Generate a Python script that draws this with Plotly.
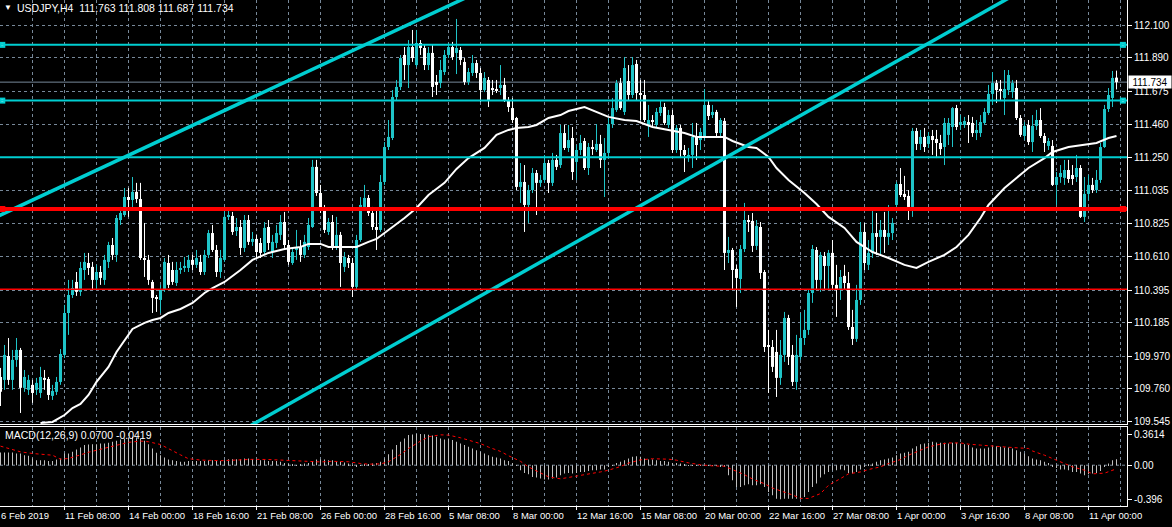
import plotly.graph_objects as go

# ---------------- data ----------------
opens = [
    109.835, 109.816, 109.970, 109.816, 109.945, 110.009, 109.765, 109.752, 109.784, 109.752,
    109.732, 109.829, 109.822, 109.713, 109.739, 109.803, 109.977, 110.247, 110.363, 110.447,
    110.383, 110.524, 110.569, 110.544, 110.460, 110.511, 110.460, 110.576, 110.685, 110.621,
    110.846, 110.878, 110.994, 110.975, 111.027, 110.981, 110.601, 110.589, 110.447, 110.350,
    110.331, 110.395, 110.569, 110.524, 110.440, 110.524, 110.537, 110.537, 110.589, 110.557,
    110.576, 110.511, 110.621, 110.762, 110.653, 110.511, 110.589, 110.866, 110.872, 110.775,
    110.801, 110.666, 110.846, 110.705, 110.724, 110.698, 110.640, 110.801, 110.640, 110.698,
    110.750, 110.833, 110.685, 110.569, 110.653, 110.672, 110.621, 110.672, 110.801, 111.188,
    111.020, 110.911, 110.769, 110.833, 110.672, 110.750, 110.544, 110.601, 110.569, 110.415,
    110.717, 110.930, 110.988, 110.891, 110.801, 110.782, 111.091, 111.316, 111.374, 111.638,
    111.703, 111.909, 111.844, 111.960, 111.844, 111.986, 111.954, 111.844, 111.922, 111.735,
    111.728, 111.799, 111.909, 111.960, 111.922, 111.941, 111.864, 111.735, 111.793, 111.857,
    111.793, 111.683, 111.748, 111.696, 111.690, 111.696, 111.716, 111.619, 111.567, 111.503,
    111.059, 111.091, 110.943, 111.039, 111.149, 111.085, 111.104, 111.213, 111.085, 111.233,
    111.200, 111.406, 111.310, 111.374, 111.220, 111.297, 111.355, 111.181, 111.316, 111.297,
    111.336, 111.233, 111.278, 111.464, 111.555, 111.728, 111.542, 111.741, 111.651, 111.851,
    111.664, 111.651, 111.458, 111.490, 111.458, 111.535, 111.574, 111.458, 111.522, 111.297,
    111.439, 111.297, 111.245, 111.265, 111.381, 111.361, 111.381, 111.587, 111.522, 111.542,
    111.406, 111.484, 110.634, 110.653, 110.531, 110.466, 110.659, 110.846, 110.840, 110.679,
    110.801, 110.511, 110.041, 110.028, 109.996, 109.829, 109.977, 110.215, 109.977, 109.803,
    109.964, 110.086, 110.138, 110.376, 110.653, 110.460, 110.614, 110.550, 110.634, 110.428,
    110.402, 110.486, 110.440, 110.157, 110.080, 110.331, 110.769, 110.557, 110.634, 110.762,
    110.737, 110.782, 110.737, 110.762, 110.943, 111.078, 111.014, 111.001, 110.930, 111.419,
    111.336, 111.381, 111.336, 111.387, 111.368, 111.342, 111.316, 111.394, 111.445, 111.567,
    111.458, 111.458, 111.477, 111.471, 111.406, 111.406, 111.471, 111.535, 111.658, 111.728,
    111.690, 111.632, 111.683, 111.670, 111.696, 111.503, 111.387, 111.458, 111.348, 111.452,
    111.490, 111.387, 111.323, 111.323, 111.072, 111.123, 111.117, 111.168, 111.136, 111.123,
    111.181, 110.866, 111.014, 111.072, 111.039, 111.104, 111.316, 111.561, 111.632, 111.763,
]
closes = [
    109.739, 109.977, 109.816, 109.945, 110.009, 109.765, 109.835, 109.816, 109.732, 109.797,
    109.835, 109.816, 109.719, 109.745, 109.803, 109.983, 110.247, 110.363, 110.408, 110.383,
    110.537, 110.576, 110.537, 110.460, 110.511, 110.473, 110.589, 110.685, 110.621, 110.859,
    110.891, 110.994, 110.975, 111.027, 110.981, 110.601, 110.589, 110.460, 110.344, 110.337,
    110.395, 110.576, 110.428, 110.447, 110.524, 110.537, 110.550, 110.589, 110.557, 110.601,
    110.511, 110.621, 110.762, 110.653, 110.511, 110.601, 110.866, 110.878, 110.769, 110.801,
    110.666, 110.846, 110.705, 110.724, 110.640, 110.634, 110.795, 110.698, 110.705, 110.762,
    110.833, 110.685, 110.576, 110.640, 110.672, 110.621, 110.705, 110.814, 111.188, 111.020,
    110.911, 110.782, 110.833, 110.672, 110.750, 110.569, 110.608, 110.569, 110.415, 110.717,
    110.943, 110.988, 110.891, 110.801, 110.782, 111.091, 111.316, 111.381, 111.638, 111.703,
    111.889, 111.844, 111.960, 111.889, 111.986, 111.954, 111.844, 111.922, 111.703, 111.716,
    111.812, 111.909, 111.960, 111.896, 111.954, 111.877, 111.735, 111.799, 111.857, 111.793,
    111.683, 111.761, 111.619, 111.683, 111.683, 111.716, 111.619, 111.574, 111.490, 111.059,
    111.091, 110.943, 111.039, 111.149, 111.085, 111.104, 111.213, 111.085, 111.233, 111.188,
    111.406, 111.310, 111.361, 111.155, 111.297, 111.342, 111.181, 111.316, 111.303, 111.336,
    111.233, 111.278, 111.464, 111.567, 111.728, 111.567, 111.825, 111.651, 111.844, 111.664,
    111.651, 111.490, 111.490, 111.477, 111.542, 111.574, 111.471, 111.522, 111.297, 111.439,
    111.297, 111.265, 111.265, 111.381, 111.329, 111.413, 111.587, 111.516, 111.542, 111.406,
    111.490, 110.634, 110.653, 110.524, 110.473, 110.659, 110.846, 110.833, 110.679, 110.808,
    110.505, 110.028, 110.028, 109.900, 109.829, 109.977, 110.215, 109.964, 109.803, 109.977,
    110.086, 110.138, 110.376, 110.659, 110.460, 110.621, 110.550, 110.634, 110.428, 110.402,
    110.479, 110.440, 110.157, 110.080, 110.331, 110.769, 110.569, 110.634, 110.762, 110.737,
    110.782, 110.737, 110.762, 110.827, 111.078, 111.007, 110.994, 110.930, 111.419, 111.336,
    111.381, 111.316, 111.387, 111.361, 111.342, 111.303, 111.471, 111.471, 111.567, 111.445,
    111.477, 111.484, 111.458, 111.406, 111.426, 111.477, 111.542, 111.658, 111.728, 111.683,
    111.677, 111.690, 111.780, 111.728, 111.503, 111.394, 111.452, 111.348, 111.452, 111.490,
    111.387, 111.342, 111.355, 111.072, 111.123, 111.149, 111.168, 111.110, 111.110, 111.181,
    110.866, 111.014, 111.072, 111.039, 111.104, 111.316, 111.561, 111.651, 111.761, 111.734,
]
highs = [
    109.893, 110.041, 110.086, 110.009, 110.086, 110.022, 109.880, 109.848, 109.816, 109.829,
    109.900, 109.880, 109.835, 109.784, 109.835, 110.015, 110.299, 110.460, 110.460, 110.511,
    110.576, 110.634, 110.634, 110.576, 110.557, 110.550, 110.621, 110.705, 110.730, 110.878,
    110.930, 111.052, 111.052, 111.123, 111.085, 111.085, 110.827, 110.621, 110.460, 110.363,
    110.428, 110.601, 110.621, 110.576, 110.576, 110.576, 110.608, 110.621, 110.621, 110.653,
    110.621, 110.653, 110.782, 110.814, 110.685, 110.653, 110.930, 110.923, 110.898, 110.859,
    110.846, 110.878, 110.878, 110.769, 110.750, 110.730, 110.833, 110.846, 110.750, 110.814,
    110.878, 110.898, 110.717, 110.672, 110.782, 110.717, 110.750, 110.859, 111.233, 111.233,
    111.072, 110.943, 110.859, 110.878, 110.866, 110.769, 110.640, 110.621, 110.601, 110.750,
    110.994, 111.072, 111.007, 110.930, 110.911, 111.136, 111.348, 111.490, 111.683, 111.748,
    111.909, 111.960, 112.005, 112.070, 112.070, 112.005, 111.973, 111.960, 111.973, 111.780,
    111.877, 111.941, 111.986, 111.993, 112.141, 111.960, 111.889, 111.825, 111.909, 111.877,
    111.825, 111.799, 111.767, 111.748, 111.748, 111.844, 111.761, 111.638, 111.632, 111.510,
    111.213, 111.200, 111.072, 111.181, 111.168, 111.136, 111.265, 111.233, 111.278, 111.265,
    111.458, 111.458, 111.458, 111.445, 111.329, 111.394, 111.374, 111.342, 111.361, 111.464,
    111.394, 111.374, 111.503, 111.632, 111.748, 111.761, 111.896, 111.844, 111.896, 111.877,
    111.748, 111.748, 111.587, 111.522, 111.567, 111.619, 111.600, 111.555, 111.555, 111.458,
    111.458, 111.329, 111.310, 111.471, 111.471, 111.439, 111.690, 111.619, 111.587, 111.555,
    111.503, 111.503, 110.737, 110.666, 110.557, 110.685, 110.956, 110.878, 110.891, 110.846,
    110.833, 110.524, 110.138, 110.073, 110.138, 110.073, 110.254, 110.235, 110.041, 110.106,
    110.247, 110.267, 110.395, 110.685, 110.672, 110.640, 110.640, 110.653, 110.717, 110.557,
    110.524, 110.557, 110.511, 110.267, 110.428, 110.833, 110.827, 110.717, 110.911, 110.891,
    110.846, 110.898, 110.943, 110.859, 111.091, 111.181, 111.130, 111.039, 111.439, 111.439,
    111.426, 111.439, 111.413, 111.426, 111.426, 111.394, 111.503, 111.503, 111.574, 111.587,
    111.522, 111.510, 111.522, 111.510, 111.490, 111.522, 111.567, 111.716, 111.799, 111.748,
    111.748, 111.812, 111.812, 111.748, 111.748, 111.522, 111.477, 111.490, 111.522, 111.555,
    111.567, 111.406, 111.374, 111.361, 111.155, 111.200, 111.233, 111.233, 111.200, 111.265,
    111.200, 111.123, 111.136, 111.117, 111.168, 111.342, 111.587, 111.696, 111.806, 111.808,
]
lows = [
    109.648, 109.752, 109.784, 109.752, 109.900, 109.603, 109.739, 109.719, 109.668, 109.719,
    109.700, 109.752, 109.687, 109.687, 109.719, 109.784, 109.957, 110.106, 110.344, 110.357,
    110.357, 110.460, 110.492, 110.395, 110.395, 110.428, 110.428, 110.537, 110.589, 110.576,
    110.814, 110.866, 110.866, 110.923, 110.956, 110.589, 110.479, 110.428, 110.247, 110.254,
    110.247, 110.383, 110.408, 110.428, 110.421, 110.499, 110.511, 110.511, 110.524, 110.537,
    110.492, 110.492, 110.601, 110.640, 110.479, 110.473, 110.576, 110.846, 110.750, 110.743,
    110.621, 110.640, 110.685, 110.679, 110.601, 110.601, 110.621, 110.653, 110.601, 110.666,
    110.717, 110.666, 110.557, 110.557, 110.589, 110.576, 110.601, 110.653, 110.795, 111.001,
    110.891, 110.762, 110.750, 110.653, 110.653, 110.415, 110.511, 110.537, 110.350, 110.395,
    110.705, 110.911, 110.872, 110.782, 110.653, 110.769, 111.072, 111.297, 111.361, 111.619,
    111.683, 111.748, 111.696, 111.864, 111.832, 111.909, 111.812, 111.812, 111.638, 111.651,
    111.696, 111.780, 111.889, 111.877, 111.786, 111.844, 111.716, 111.716, 111.774, 111.761,
    111.606, 111.670, 111.574, 111.651, 111.664, 111.651, 111.606, 111.542, 111.471, 111.039,
    110.956, 110.769, 110.827, 111.020, 110.878, 111.059, 111.085, 111.020, 111.065, 111.168,
    111.181, 111.297, 111.284, 111.104, 111.104, 111.265, 111.168, 111.136, 111.265, 111.284,
    111.181, 110.994, 111.245, 111.439, 111.542, 111.555, 111.522, 111.619, 111.632, 111.619,
    111.490, 111.477, 111.381, 111.445, 111.439, 111.516, 111.458, 111.439, 111.278, 111.278,
    111.245, 111.155, 111.220, 111.181, 111.233, 111.297, 111.361, 111.490, 111.503, 111.387,
    111.387, 110.524, 110.569, 110.395, 110.286, 110.376, 110.640, 110.769, 110.640, 110.653,
    110.466, 109.996, 109.732, 109.867, 109.706, 109.784, 109.932, 109.912, 109.777, 109.752,
    109.945, 110.041, 110.106, 110.312, 110.395, 110.383, 110.395, 110.402, 110.395, 110.222,
    110.331, 110.395, 110.138, 110.041, 110.061, 110.299, 110.524, 110.524, 110.601, 110.621,
    110.621, 110.634, 110.685, 110.717, 110.898, 110.994, 110.975, 110.846, 110.866, 111.297,
    111.297, 111.284, 111.310, 111.265, 111.245, 111.265, 111.200, 111.329, 111.316, 111.426,
    111.426, 111.439, 111.342, 111.381, 111.361, 111.381, 111.458, 111.522, 111.587, 111.600,
    111.619, 111.522, 111.651, 111.632, 111.490, 111.381, 111.361, 111.329, 111.284, 111.426,
    111.374, 111.284, 111.297, 111.065, 110.943, 111.085, 111.072, 111.085, 111.072, 111.091,
    110.859, 110.833, 110.975, 111.020, 111.020, 111.085, 111.310, 111.542, 111.574, 111.687,
]

# white moving average (sampled along the curve)
ma_bars = [10, 13, 16, 18, 20, 22, 24, 27, 29, 31, 33, 36, 38, 40, 42, 45, 48, 51, 53, 56,
           60, 63, 67, 71, 75, 77, 80, 82, 89, 92, 94, 97, 101, 104, 107, 111, 114, 117, 121, 124,
           127, 129, 132, 134, 137, 140, 142, 146, 149, 152, 156, 159, 163, 167, 171, 174, 177, 181, 183, 187,
           189, 192, 194, 197, 201, 204, 207, 211, 214, 218, 222, 226, 229, 232, 236, 239, 242, 245, 247, 251,
           254, 257, 261, 263, 267, 270, 274, 277, 279]
ma_values = [109.539, 109.545, 109.590, 109.635, 109.661, 109.719, 109.803, 109.900, 109.996, 110.073,
             110.144, 110.183, 110.202, 110.215, 110.247, 110.273, 110.312, 110.376, 110.408, 110.447,
             110.524, 110.589, 110.634, 110.659, 110.672, 110.692, 110.692, 110.672, 110.672, 110.705,
             110.724, 110.782, 110.859, 110.923, 111.007, 111.085, 111.175, 111.245, 111.310, 111.394,
             111.426, 111.439, 111.445, 111.458, 111.503, 111.522, 111.548, 111.574, 111.542, 111.510,
             111.490, 111.484, 111.445, 111.426, 111.406, 111.381, 111.381, 111.381, 111.355, 111.316,
             111.310, 111.252, 111.181, 111.104, 111.020, 110.949, 110.866, 110.795, 110.705, 110.640,
             110.601, 110.557, 110.537, 110.576, 110.621, 110.672, 110.750, 110.859, 110.943, 111.052,
             111.117, 111.181, 111.245, 111.284, 111.316, 111.329, 111.342, 111.374, 111.387]

# MACD(12,26,9) main values (histogram) per bar
macd_main = [
    0.147, 0.147, 0.147, 0.147, 0.136, 0.136, 0.116, 0.109, 0.078, 0.058,
    0.058, 0.058, 0.050, 0.050, 0.066, 0.078, 0.136, 0.136, 0.155, 0.182,
    0.205, 0.233, 0.240, 0.244, 0.244, 0.252, 0.252, 0.260, 0.271, 0.283,
    0.298, 0.310, 0.322, 0.329, 0.322, 0.310, 0.283, 0.244, 0.194, 0.143,
    0.116, 0.089, 0.066, 0.058, 0.050, 0.039, 0.039, 0.050, 0.050, 0.050,
    0.050, 0.050, 0.058, 0.058, 0.050, 0.050, 0.058, 0.070, 0.070, 0.070,
    0.070, 0.078, 0.078, 0.070, 0.066, 0.058, 0.058, 0.050, 0.050, 0.050,
    0.039, 0.027, 0.012, 0.008, 0.002, 0.008, 0.019, 0.027, 0.050, 0.066,
    0.066, 0.066, 0.058, 0.058, 0.050, 0.039, 0.031, 0.019, -0.002, -0.019,
    -0.002, 0.012, 0.012, 0.019, 0.027, 0.039, 0.078, 0.128, 0.182, 0.233,
    0.271, 0.310, 0.349, 0.355, 0.361, 0.361, 0.358, 0.352, 0.345, 0.330,
    0.310, 0.298, 0.310, 0.291, 0.271, 0.252, 0.233, 0.213, 0.194, 0.174,
    0.155, 0.136, 0.116, 0.097, 0.089, 0.078, 0.058, 0.050, 0.027, 0.002,
    -0.058, -0.089, -0.105, -0.136, -0.143, -0.155, -0.167, -0.167, -0.155, -0.143,
    -0.116, -0.097, -0.089, -0.097, -0.089, -0.078, -0.078, -0.066, -0.058, -0.058,
    -0.050, -0.050, -0.019, -0.008, 0.027, 0.039, 0.058, 0.078, 0.097, 0.105,
    0.097, 0.078, 0.066, 0.066, 0.058, 0.050, 0.050, 0.039, 0.027, 0.027,
    0.019, 0.008, 0.002, -0.002, -0.008, -0.008, 0.002, -0.002, 0.002, -0.008,
    -0.012, -0.019, -0.116, -0.174, -0.252, -0.252, -0.233, -0.221, -0.233, -0.233,
    -0.221, -0.252, -0.310, -0.349, -0.390, -0.396, -0.390, -0.390, -0.390, -0.390,
    -0.390, -0.368, -0.310, -0.252, -0.213, -0.143, -0.105, -0.078, -0.058, -0.058,
    -0.050, -0.058, -0.089, -0.097, -0.078, -0.050, -0.019, 0.008, 0.019, 0.039,
    0.058, 0.066, 0.078, 0.089, 0.116, 0.136, 0.143, 0.155, 0.194, 0.221,
    0.244, 0.252, 0.260, 0.271, 0.263, 0.260, 0.260, 0.252, 0.260, 0.260,
    0.252, 0.244, 0.233, 0.205, 0.194, 0.194, 0.194, 0.205, 0.221, 0.221,
    0.213, 0.205, 0.205, 0.194, 0.174, 0.155, 0.136, 0.105, 0.078, 0.066,
    0.058, 0.039, 0.027, -0.019, -0.031, -0.050, -0.050, -0.058, -0.078, -0.078,
    -0.097, -0.116, -0.105, -0.097, -0.089, -0.066, -0.019, 0.019, 0.058, 0.070,
]

# MACD signal line (sampled)
signal_bars = [0, 5, 8, 13, 15, 17, 20, 22, 25, 27, 30, 32, 35, 37, 40, 42, 45, 47, 50, 55,
               58, 63, 67, 71, 75, 80, 83, 87, 90, 92, 95, 97, 100, 102, 105, 107, 110, 112, 115, 117,
               120, 122, 125, 127, 130, 132, 135, 137, 140, 142, 145, 147, 150, 152, 155, 157, 160, 163, 167, 169,
               172, 175, 178, 181, 183, 186, 188, 191, 193, 196, 198, 200, 202, 205, 207, 210, 212, 215, 217, 220,
               222, 225, 227, 230, 232, 235, 237, 240, 242, 245, 247, 250, 253, 257, 258, 261, 263, 266, 268, 271,
               273, 276, 278, 279]
signal_values = [0.221, 0.155, 0.136, 0.116, 0.070, 0.078, 0.120, 0.150, 0.185, 0.210,
                 0.240, 0.265, 0.280, 0.272, 0.240, 0.190, 0.120, 0.075, 0.060, 0.052,
                 0.058, 0.068, 0.066, 0.058, 0.042, 0.038, 0.045, 0.040, 0.020, 0.012,
                 0.015, 0.040, 0.125, 0.194, 0.280, 0.330, 0.352, 0.349, 0.318, 0.290,
                 0.250, 0.210, 0.160, 0.110, 0.045, -0.020, -0.090, -0.135, -0.158, -0.143,
                 -0.116, -0.097, -0.078, -0.058, -0.015, 0.025, 0.062, 0.075, 0.070, 0.058,
                 0.027, 0.005, -0.008, -0.012, -0.050, -0.110, -0.160, -0.215, -0.265, -0.310,
                 -0.345, -0.385, -0.385, -0.329, -0.233, -0.155, -0.100, -0.078, -0.050, -0.019,
                 0.019, 0.066, 0.116, 0.174, 0.213, 0.244, 0.258, 0.258, 0.244, 0.233,
                 0.225, 0.221, 0.205, 0.194, 0.165, 0.116, 0.078, 0.019, -0.019, -0.058,
                 -0.100, -0.092, -0.058, -0.042]

# price scale labels
price_ticks = ["112.100", "111.890", "111.675", "111.460", "111.250", "111.035", "110.825",
               "110.610", "110.395", "110.185", "109.970", "109.760", "109.545"]
macd_ticks = ["0.3614", "0.00", "-0.396"]

# time labels (bar index, text)
time_label_bars = [0, 16, 32, 48, 64, 80, 96, 112, 128, 144, 160, 176, 192, 208, 224, 240, 256, 272]
time_labels = ["6 Feb 2019", "11 Feb 08:00", "14 Feb 00:00", "18 Feb 16:00", "21 Feb 08:00",
               "26 Feb 00:00", "28 Feb 16:00", "5 Mar 08:00", "8 Mar 00:00", "12 Mar 16:00",
               "15 Mar 08:00", "20 Mar 00:00", "22 Mar 16:00", "27 Mar 08:00", "1 Apr 00:00",
               "3 Apr 16:00", "8 Apr 08:00", "11 Apr 00:00"]

# chart objects
cyan_levels = [111.974, 111.615, 111.250]
red_thick_level = 110.917
red_thin_level = 110.400
bid_price = 111.734
trend1_bars = [-1, 130]
trend1_prices = [110.866, 112.442]
trend2_bars = [60, 256]
trend2_prices = [109.485, 112.333]
anchor_bars = [0.45, 280.6]          # selected-object handles
anchored_cyan = [111.974, 111.615]

header = "USDJPY,H4&nbsp;&nbsp;111.763 111.808 111.687 111.734"
macd_title = "MACD(12,26,9) 0.0700 -0.0419"

# ---------------- styling ----------------
BULL = "#1fc4c8"
BEAR = "#ffffff"
CYAN = "#00ced1"
RED = "#ff0000"
GRID = "#778899"
FONT = "Liberation Sans, Arial, sans-serif"
W, H = 1172, 527
L, R, T, B = 0, 45, 0, 21
PH = H - T - B  # plot height 506
main_dom = [(PH - 424) / PH, 1.0]
macd_dom = [0.0, (PH - 427) / PH]
XR = [-0.125, 281.625]

n = len(opens)
idx = list(range(n))
up = [i for i in idx if closes[i] >= opens[i]]
dn = [i for i in idx if closes[i] < opens[i]]

fig = go.Figure()

for group, col in ((up, BULL), (dn, BEAR)):
    wx, wy = [], []
    for i in group:
        wx += [i, i, None]
        wy += [lows[i], highs[i], None]
    fig.add_trace(go.Scatter(x=wx, y=wy, mode="lines", line=dict(color=col, width=1),
                             hoverinfo="skip", xaxis="x", yaxis="y"))
    fig.add_trace(go.Bar(x=group,
                         base=[min(opens[i], closes[i]) for i in group],
                         y=[max(abs(closes[i] - opens[i]), 0.0065) for i in group],
                         width=0.75, marker=dict(color=col, line=dict(width=0)),
                         hoverinfo="skip", xaxis="x", yaxis="y"))

fig.add_trace(go.Scatter(x=ma_bars, y=ma_values, mode="lines",
                         line=dict(color="#ffffff", width=2), xaxis="x", yaxis="y"))

for tb, tp in ((trend1_bars, trend1_prices), (trend2_bars, trend2_prices)):
    fig.add_trace(go.Scatter(x=tb, y=tp, mode="lines", line=dict(color=CYAN, width=3.5),
                             xaxis="x", yaxis="y"))

# MACD
fig.add_trace(go.Bar(x=idx, y=macd_main, width=0.25, marker=dict(color="#c0c0c0", line=dict(width=0)),
                     xaxis="x2", yaxis="y2"))
fig.add_trace(go.Scatter(x=signal_bars, y=signal_values, mode="lines",
                         line=dict(color=RED, width=1, dash="3px,3px"), xaxis="x2", yaxis="y2"))

# horizontal objects
shapes = []
for lv in cyan_levels:
    shapes.append(dict(type="line", xref="paper", x0=0, x1=1, yref="y", y0=lv, y1=lv,
                       line=dict(color=CYAN, width=2), layer="above"))
shapes.append(dict(type="line", xref="paper", x0=0, x1=1, yref="y", y0=red_thick_level, y1=red_thick_level,
                   line=dict(color=RED, width=4), layer="above"))
shapes.append(dict(type="line", xref="paper", x0=0, x1=1, yref="y", y0=red_thin_level, y1=red_thin_level,
                   line=dict(color=RED, width=1.5), layer="above"))
shapes.append(dict(type="line", xref="paper", x0=0, x1=1, yref="y", y0=bid_price, y1=bid_price,
                   line=dict(color=GRID, width=1), layer="below"))
shapes.append(dict(type="line", xref="paper", x0=0, x1=1, yref="y2", y0=0, y1=0,
                   line=dict(color=GRID, width=1, dash="3px,3px"), layer="below"))

# handles
hx, hy, hc = [], [], []
for lv in anchored_cyan:
    for b in anchor_bars:
        hx.append(b); hy.append(lv); hc.append(CYAN)
for b in anchor_bars:
    hx.append(b); hy.append(red_thick_level); hc.append(RED)
fig.add_trace(go.Scatter(x=hx, y=hy, mode="markers", cliponaxis=False,
                         marker=dict(symbol="square", size=6, color=hc, line=dict(width=0)),
                         xaxis="x", yaxis="y"))
fig.add_trace(go.Scatter(x=hx, y=hy, mode="markers", cliponaxis=False,
                         marker=dict(symbol="square", size=2, color="#ffffff", line=dict(width=0)),
                         xaxis="x", yaxis="y"))

ann = []
ann.append(dict(xref="paper", yref="paper", x=2 / 1127, y=(PH - 7) / PH, text="▼", showarrow=False,
                xanchor="left", yanchor="middle", font=dict(family=FONT, size=8, color="#ffffff")))
ann.append(dict(xref="paper", yref="paper", x=15 / 1127, y=(PH - 8) / PH, text=header, showarrow=False,
                xanchor="left", yanchor="middle", font=dict(family=FONT, size=10.5, color="#ffffff")))
ann.append(dict(xref="paper", yref="paper", x=3 / 1127, y=(PH - 435) / PH, text=macd_title, showarrow=False,
                xanchor="left", yanchor="middle", font=dict(family=FONT, size=10.5, color="#ffffff")))
for b, t in zip(time_label_bars, time_labels):
    ann.append(dict(xref="x2", yref="paper", x=b, y=(PH - 515.5) / PH, text=t, showarrow=False,
                    xanchor="left", yanchor="middle", xshift=-2,
                    font=dict(family=FONT, size=9.5, color="#ffffff")))
ann.append(dict(xref="paper", yref="y", x=1, y=bid_price, text=f"{bid_price:.3f}",
                showarrow=False, xanchor="left", yanchor="middle", xshift=1, width=42, height=12,
                bgcolor="#ffffff", borderpad=0, align="center",
                font=dict(family=FONT, size=10, color="#000000")))

axis_common = dict(zeroline=False, showline=True, linecolor="#ffffff", linewidth=1)
fig.update_layout(
    width=W, height=H, margin=dict(l=L, r=R, t=T, b=B),
    paper_bgcolor="#000000", plot_bgcolor="#000000",
    showlegend=False, hovermode=False, barmode="overlay",
    shapes=shapes, annotations=ann,
    xaxis=dict(domain=[0, 1], range=XR, anchor="y", tickvals=list(range(8, 281, 8)),
               showticklabels=False, ticks="", showgrid=True, gridcolor=GRID, griddash="3px,3px",
               gridwidth=1, **axis_common),
    xaxis2=dict(domain=[0, 1], range=XR, anchor="y2", matches="x",
                tickvals=list(range(16, 281, 16)), showticklabels=False, ticks="outside", ticklen=3,
                tickcolor="#ffffff", showgrid=True, gridcolor=GRID, griddash="3px,3px", mirror=True,
                minor=dict(tickvals=list(range(8, 281, 16)), showgrid=True, gridcolor=GRID,
                           griddash="3px,3px", ticks=""),
                **axis_common),
    yaxis=dict(domain=main_dom, range=[109.532, 112.263], anchor="x", side="right",
               tickvals=[float(v) for v in price_ticks], ticktext=price_ticks,
               ticks="outside", ticklen=4, tickcolor="#ffffff",
               tickfont=dict(family=FONT, size=10, color="#ffffff"),
               showgrid=True, gridcolor=GRID, griddash="3px,3px", **axis_common),
    yaxis2=dict(domain=macd_dom, range=[-0.473, 0.443], anchor="x2", side="right",
                tickvals=[float(v) for v in macd_ticks], ticktext=macd_ticks,
                ticks="outside", ticklen=4, tickcolor="#ffffff",
                tickfont=dict(family=FONT, size=10, color="#ffffff"),
                showgrid=False, mirror=True, **axis_common),
)

fig.write_html("out.html", config={"displayModeBar": False},
               post_script="document.body.style.margin='0';document.body.style.padding='0';")
